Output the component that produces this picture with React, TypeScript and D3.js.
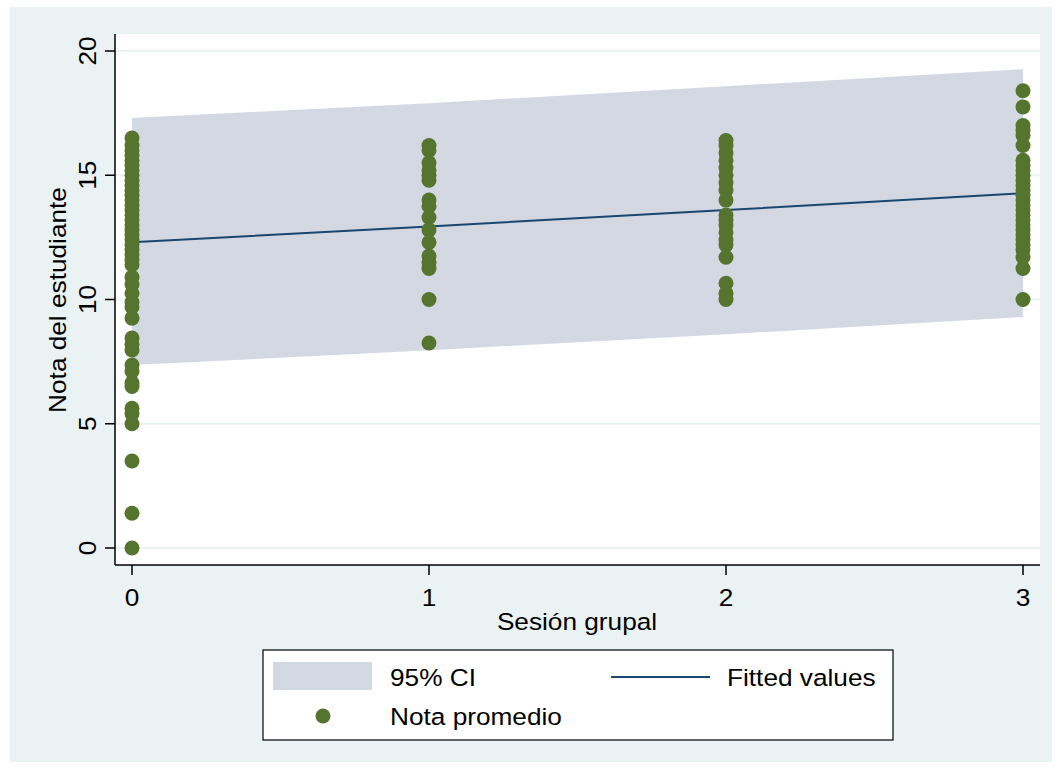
import React from "react";
import * as d3 from "d3";

const sessions = [0, 1, 2, 3];
const fitted = [12.3, 12.94, 13.6, 14.28];
const ciUpper = [17.3, 17.9, 18.58, 19.27];
const ciLower = [7.36, 7.96, 8.6, 9.3];

const grades0 = [16.5, 16.2, 16.0, 15.8, 15.6, 15.4, 15.2, 15.0, 14.8, 14.6, 14.4, 14.2, 14.0, 13.8, 13.6, 13.4, 13.2, 13.0, 12.8, 12.6, 12.4, 12.2, 12.0, 11.8, 11.6, 11.4, 10.9, 10.6, 10.25, 9.9, 9.7, 9.25, 8.45, 8.2, 7.97, 7.36, 7.1, 6.65, 6.5, 5.62, 5.4, 5.0, 3.5, 1.4, 0];
const grades1 = [16.2, 16.0, 15.5, 15.2, 15.0, 14.8, 14.0, 13.75, 13.3, 12.8, 12.3, 11.75, 11.5, 11.25, 10.0, 8.25];
const grades2 = [16.4, 16.2, 15.9, 15.6, 15.3, 15.0, 14.7, 14.4, 14.0, 13.4, 13.2, 13.0, 12.7, 12.4, 12.2, 11.7, 10.65, 10.25, 10.0];
const grades3 = [18.4, 17.75, 17.0, 16.8, 16.6, 16.2, 15.6, 15.4, 15.2, 15.0, 14.8, 14.6, 14.4, 14.2, 14.0, 13.8, 13.6, 13.4, 13.2, 13.0, 12.8, 12.6, 12.4, 12.2, 12.0, 11.7, 11.25, 10.0];
const gradesBySession = [grades0, grades1, grades2, grades3];

const yTicks = [0, 5, 10, 15, 20];
const xTicks = [0, 1, 2, 3];

const FONT = "'Liberation Sans', Arial, Helvetica, sans-serif";
const BG = "#EAF2F3";
const CI_FILL = "#D3D8E3";
const LINE = "#1A476F";
const DOT = "#55752F";

function T({ x, y, rot = 0, anchor = "start", children }: any) {
  return (
    <text
      transform={`translate(${x},${y}) rotate(${rot}) scale(1.07,1)`}
      textAnchor={anchor}
      fontSize={24.5}
      fill="#000"
    >
      {children}
    </text>
  );
}

export default function App() {
  const W = 1062, H = 769;
  const plot = { x0: 115, x1: 1040, y0: 34, y1: 565 };
  const x = d3.scaleLinear().domain([0, 3]).range([132, 1023]);
  const y = d3.scaleLinear().domain([0, 20]).range([548, 51]);

  const band = sessions.map((s, i) => ({ s, lo: ciLower[i], hi: ciUpper[i] }));
  const areaPath = d3.area<any>().x(d => x(d.s)).y0(d => y(d.lo)).y1(d => y(d.hi))(band) || "";
  const linePath = d3.line<any>().x((d, i) => x(sessions[i])).y(d => y(d))(fitted) || "";

  const points: { s: number; v: number }[] = [];
  gradesBySession.forEach((arr, i) => arr.forEach(v => points.push({ s: sessions[i], v })));

  return (
    <svg width={W} height={H} style={{ position: "absolute", left: 0, top: 0 }} fontFamily={FONT}>
      <rect x={0} y={0} width={W} height={H} fill="#ffffff" />
      <rect x={10} y={7} width={1042} height={755} fill={BG} />
      <rect x={plot.x0} y={plot.y0} width={plot.x1 - plot.x0} height={plot.y1 - plot.y0} fill="#ffffff" />
      {yTicks.map(t => (
        <line key={"g" + t} x1={plot.x0} x2={plot.x1} y1={y(t)} y2={y(t)} stroke={BG} strokeWidth={2} />
      ))}
      <path d={areaPath} fill={CI_FILL} />
      <path d={linePath} fill="none" stroke={LINE} strokeWidth={2} />
      {points.map((p, i) => (
        <circle key={i} cx={x(p.s)} cy={y(p.v)} r={7.5} fill={DOT} />
      ))}
      {/* axes */}
      <line x1={plot.x0} x2={plot.x0} y1={plot.y0} y2={plot.y1} stroke="#000" strokeWidth={1.5} />
      <line x1={plot.x0} x2={plot.x1} y1={plot.y1} y2={plot.y1} stroke="#000" strokeWidth={1.5} />
      {yTicks.map(t => (
        <g key={"yt" + t}>
          <line x1={plot.x0 - 10} x2={plot.x0} y1={y(t)} y2={y(t)} stroke="#000" strokeWidth={1.5} />
          <T x={96} y={y(t)} rot={-90} anchor="middle">{t}</T>
        </g>
      ))}
      {xTicks.map(t => (
        <g key={"xt" + t}>
          <line x1={x(t)} x2={x(t)} y1={plot.y1} y2={plot.y1 + 10} stroke="#000" strokeWidth={1.5} />
          <T x={x(t)} y={606} anchor="middle">{t}</T>
        </g>
      ))}
      <T x={577} y={630} anchor="middle">Sesión grupal</T>
      <T x={66} y={300} rot={-90} anchor="middle">Nota del estudiante</T>
      {/* legend */}
      <rect x={263} y={650} width={630} height={90} fill="#ffffff" stroke="#000" strokeWidth={1.2} />
      <rect x={273} y={662} width={99} height={28} fill={CI_FILL} />
      <T x={390} y={686}>95% CI</T>
      <line x1={611} x2={710} y1={677} y2={677} stroke={LINE} strokeWidth={2} />
      <T x={727} y={686}>Fitted values</T>
      <circle cx={323} cy={716} r={7.5} fill={DOT} />
      <T x={390} y={725}>Nota promedio</T>
    </svg>
  );
}
